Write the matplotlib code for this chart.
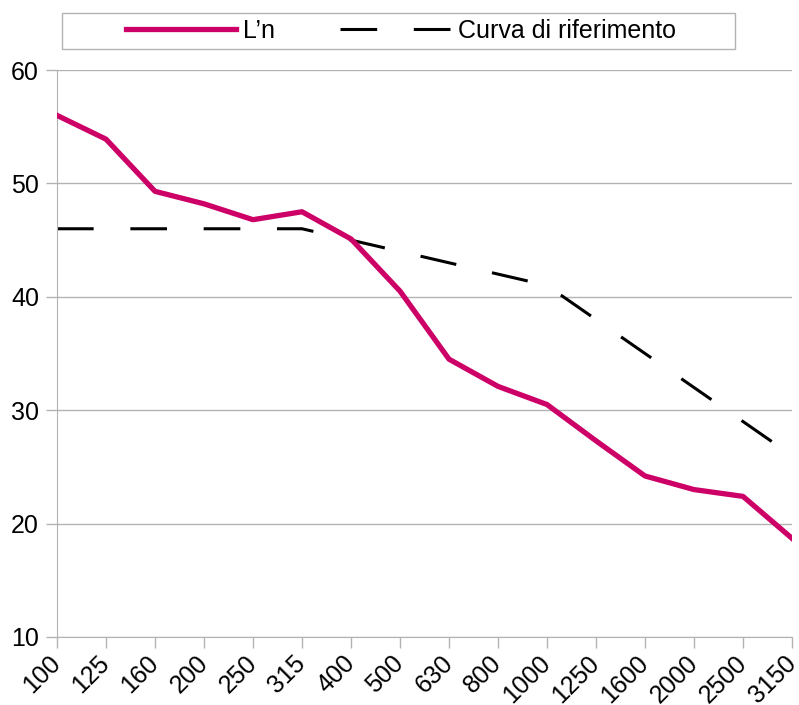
import matplotlib.pyplot as plt
from matplotlib.patches import Rectangle

plt.rcParams['font.family'] = ['Liberation Sans', 'DejaVu Sans']

# one-third octave band frequencies (Hz)
frequencies = ['100', '125', '160', '200', '250', '315', '400', '500',
               '630', '800', '1000', '1250', '1600', '2000', '2500', '3150']

# measured normalized impact level L'n
ln_values = [56.0, 53.9, 49.3, 48.2, 46.8, 47.5, 45.1, 40.5,
             34.5, 32.1, 30.5, 27.3, 24.2, 23.0, 22.4, 18.7]

# shifted reference curve
ref_values = [46, 46, 46, 46, 46, 46, 45, 44,
              43, 42, 41, 38, 35, 32, 29, 26]

grid_col = '#b3b3b3'
W, H = 799, 705

fig = plt.figure(figsize=(W / 100, H / 100), dpi=100)
ax = fig.add_axes([57 / W, 1 - 637 / H, 735 / W, 567 / H])

x = list(range(len(frequencies)))
ax.plot(x, ln_values, color='#cc0066', lw=3.8, label="L\u2019n",
        solid_joinstyle='round', zorder=3)
ax.plot(x, ref_values, color='black', lw=2.2, dashes=(12, 12),
        label='Curva di riferimento', zorder=2)

ax.set_xlim(0, len(frequencies) - 1)
ax.set_ylim(10, 60)
ax.set_yticks([10, 20, 30, 40, 50, 60])
ax.set_xticks(x)
ax.set_xticklabels(frequencies, rotation=45, ha='right', va='center',
                   rotation_mode='anchor')

ax.grid(axis='y', color=grid_col, lw=1)
ax.set_axisbelow(True)
for side in ['top', 'right']:
    ax.spines[side].set_visible(False)
for side in ['left', 'bottom']:
    ax.spines[side].set_color(grid_col)
ax.tick_params(axis='both', colors=grid_col, labelcolor='black',
               labelsize=18, length=8, width=1)
ax.tick_params(axis='y', pad=5)
ax.tick_params(axis='x', pad=8)

# legend frame is wider than its content, so draw it separately
fig.patches.append(Rectangle((62 / W, 1 - 49 / H), 673 / W, 36 / H,
                             transform=fig.transFigure, facecolor='white',
                             edgecolor=grid_col, lw=1))
fig.legend(loc='center', bbox_to_anchor=(401 / W, 1 - 31 / H),
           ncol=2, fontsize=18, handlelength=4.4, columnspacing=2.6,
           frameon=False, borderpad=0, handletextpad=0.3, borderaxespad=0)

fig.savefig('out.png', dpi=100)
